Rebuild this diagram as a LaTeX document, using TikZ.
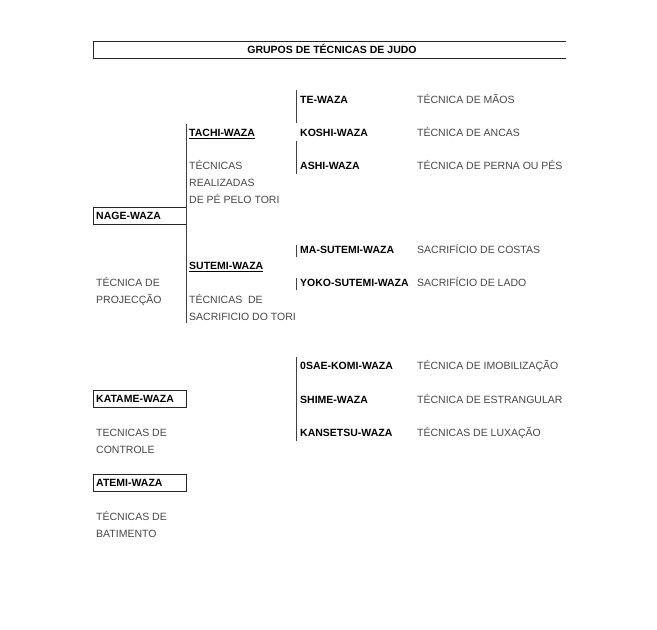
\documentclass[tikz,border=0pt]{standalone}
\usepackage{fontspec}
\setmainfont{Liberation Sans}
\begin{document}
\begin{tikzpicture}[x=1pt,y=-1pt,
  wname/.style={anchor=base west,inner sep=0pt,yshift=-3.8pt,font=\fontsize{10.5}{12}\selectfont\bfseries,text=black},
  wdesc/.style={anchor=base west,inner sep=0pt,yshift=-3.8pt,font=\fontsize{10.5}{12}\selectfont,text=black!72},
  wbar/.style={draw=black!75,line width=0.9pt},
  wboxl/.style={draw=black!85,line width=1pt}]
\useasboundingbox[fill=white] (0,0) rectangle (657,630);
% title
\draw[wboxl] (566,41) -- (93,41) -- (93,58) -- (566,58);
\node[wname,anchor=base] (title) at (332,49.5) {GRUPOS DE TÉCNICAS DE JUDO};
% main bars
\coordinate (b1t) at (186,124); \coordinate (b1b) at (186,323);
\draw[wbar] (b1t) -- (b1b);
\coordinate (t1a) at (296,90); \coordinate (t1b) at (296,123);
\coordinate (t2a) at (296,141); \coordinate (t2b) at (296,174);
\draw[wbar] (t1a) -- (t1b);
\draw[wbar] (t2a) -- (t2b);
\coordinate (s1a) at (296,245); \coordinate (s1b) at (296,257);
\coordinate (s2a) at (296,278); \coordinate (s2b) at (296,290);
\draw[wbar] (s1a) -- (s1b);
\draw[wbar] (s2a) -- (s2b);
\coordinate (k1a) at (296,357); \coordinate (k1b) at (296,441);
\draw[wbar] (k1a) -- (k1b);
% left boxes
\draw[wboxl] (186,207) -- (93,207) -- (93,224) -- (186,224);
\node[wname] (nage) at (96,215.5) {NAGE-WAZA};
\draw[wboxl] (93,390) rectangle (186,407);
\node[wname] (katame) at (96,398.5) {KATAME-WAZA};
\draw[wboxl] (93,474) rectangle (186,491);
\node[wname] (atemi) at (96,482.5) {ATEMI-WAZA};
% left descriptions
\node[wdesc] (proj1) at (96,283) {TÉCNICA DE};
\node[wdesc] (proj2) at (96,300) {PROJECÇÃO};
\node[wdesc] (ctrl1) at (96,433) {TECNICAS DE};
\node[wdesc] (ctrl2) at (96,450) {CONTROLE};
\node[wdesc] (bat1) at (96,517) {TÉCNICAS DE};
\node[wdesc] (bat2) at (96,534) {BATIMENTO};
% middle column
\node[wname] (tachi) at (189,133) {\underline{TACHI-WAZA}};
\node[wdesc] (tachid1) at (189,166) {TÉCNICAS};
\node[wdesc] (tachid2) at (189,183) {REALIZADAS};
\node[wdesc] (tachid3) at (189,200) {DE PÉ PELO TORI};
\node[wname] (sutemi) at (189,266) {\underline{SUTEMI-WAZA}};
\node[wdesc] (sutd1) at (189,300) {TÉCNICAS\ \ DE};
\node[wdesc] (sutd2) at (189,317) {SACRIFICIO DO TORI};
% right column
\node[wname] (te) at (300,100) {TE-WAZA};
\node[wname] (koshi) at (300,133) {KOSHI-WAZA};
\node[wname] (ashi) at (300,166) {ASHI-WAZA};
\node[wname] (ma) at (300,250) {MA-SUTEMI-WAZA};
\node[wname] (yoko) at (300,283) {YOKO-SUTEMI-WAZA};
\node[wname] (osae) at (300,366) {0SAE-KOMI-WAZA};
\node[wname] (shime) at (300,400) {SHIME-WAZA};
\node[wname] (kan) at (300,433) {KANSETSU-WAZA};
\node[wdesc] (ted) at (417,100) {TÉCNICA DE MÃOS};
\node[wdesc] (koshid) at (417,133) {TÉCNICA DE ANCAS};
\node[wdesc] (ashid) at (417,166) {TÉCNICA DE PERNA OU PÉS};
\node[wdesc] (mad) at (417,250) {SACRIFÍCIO DE COSTAS};
\node[wdesc] (yokod) at (417,283) {SACRIFÍCIO DE LADO};
\node[wdesc] (osaed) at (417,366) {TÉCNICA DE IMOBILIZAÇÃO};
\node[wdesc] (shimed) at (417,400) {TÉCNICA DE ESTRANGULAR};
\node[wdesc] (kand) at (417,433) {TÉCNICAS DE LUXAÇÃO};
\end{tikzpicture}
\end{document}
